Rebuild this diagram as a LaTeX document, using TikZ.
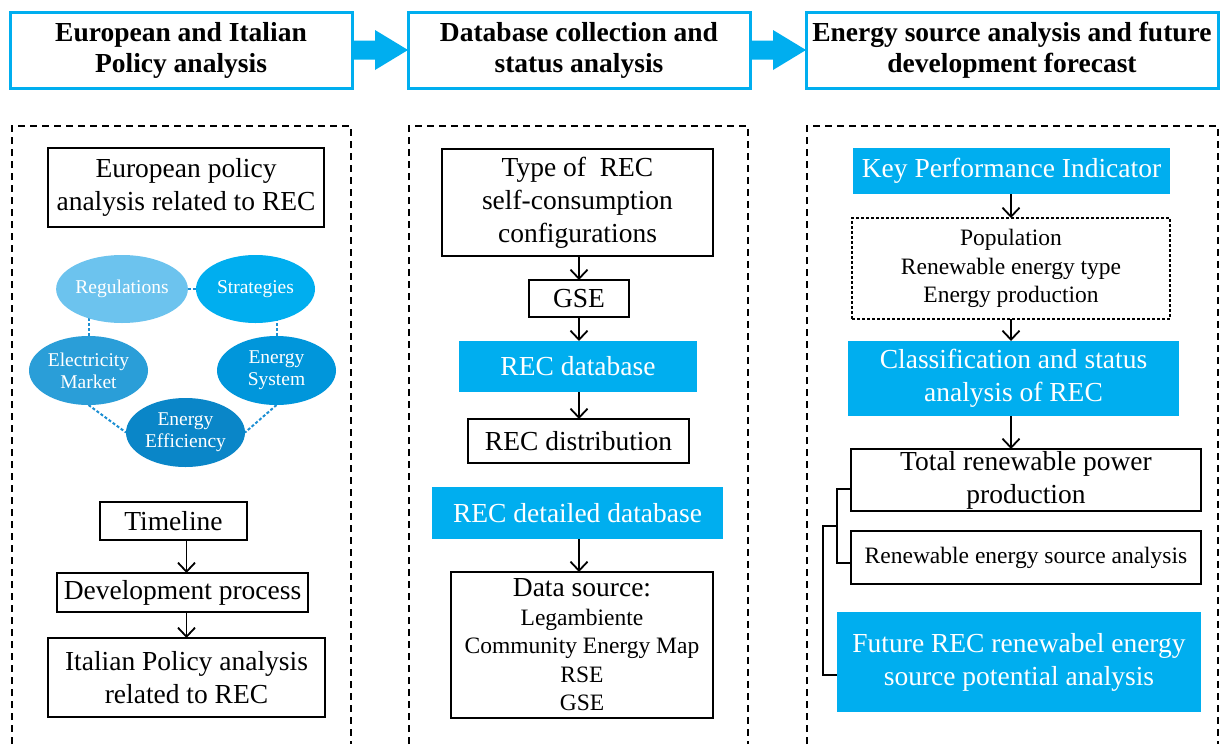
\documentclass[tikz,border=0pt]{standalone}
\usepackage{fontspec}
\setmainfont{Liberation Serif}
\usetikzlibrary{shapes.geometric,arrows.meta,calc,backgrounds}
\definecolor{cyanA}{HTML}{00AEEF}
\definecolor{ellA}{HTML}{6CC3EE}
\definecolor{ellB}{HTML}{00AEEF}
\definecolor{ellC}{HTML}{2A9ED8}
\definecolor{ellD}{HTML}{0096DB}
\definecolor{ellE}{HTML}{0A86C8}
\definecolor{dotblue}{HTML}{1C8FD3}
\newcommand{\fsL}{\fontsize{27.5}{33}\selectfont}
\newcommand{\fsH}{\fontsize{27.5}{31}\selectfont}
\newcommand{\fsM}{\fontsize{23.5}{28.5}\selectfont}
\newcommand{\fsS}{\fontsize{19.5}{22}\selectfont}
\tikzset{
  hdr/.style={draw=cyanA, line width=3pt, fill=white, inner sep=0pt, outer sep=0pt, align=center, font=\fsH\bfseries, minimum height=76pt},
  box/.style={draw=black, line width=1.6pt, inner sep=0pt, outer sep=0pt, align=center, font=\fsL},
  dotbox/.style={draw=black, line width=1.6pt, dash pattern=on 3pt off 2pt, inner sep=0pt, outer sep=0pt, align=center, font=\fsM},
  cbox/.style={fill=cyanA, text=white, inner sep=0pt, outer sep=0pt, align=center, font=\fsL},
  ell/.style={ellipse, inner sep=0pt, outer sep=0pt, text=white, align=center, font=\fsS},
  arr/.style={line width=1.8pt, -{Straight Barb[length=9pt,width=17pt]}},
  tree/.style={line width=1.6pt},
  cont/.style={line width=1.6pt, dash pattern=on 7pt off 5pt},
  dotcon/.style={draw=dotblue, line width=2pt, dash pattern=on 3pt off 2pt},
  blockarr/.style={fill=cyanA}
}
\begin{document}
\begin{tikzpicture}[x=1pt,y=-1pt]
\useasboundingbox (0,0) rectangle (1220,744);

% headers
\node[hdr, minimum width=342pt] (H1) at (181,50) {European and Italian\\Policy analysis};
\node[hdr, minimum width=342pt] (H2) at (579,50) {Database collection and\\status analysis};
\node[hdr, minimum width=412pt] (H3) at (1012,50) {Energy source analysis and future\\development forecast};
\fill[blockarr] ($(H1.east)+(0,-9.5)$) -- ++(23,0) -- ++(0,-10.5) -- (H2.west) -- ++(-33,20) -- ++(0,-10.5) -- ++(-23,0) -- cycle;
\fill[blockarr] ($(H2.east)+(0,-9.5)$) -- ++(23,0) -- ++(0,-10.5) -- (H3.west) -- ++(-33,20) -- ++(0,-10.5) -- ++(-23,0) -- cycle;

% containers
\draw[cont] (12,744) -- (12,126) -- (351,126) -- (351,744);
\draw[cont] (409,744) -- (409,126) -- (748,126) -- (748,744);
\draw[cont] (807,744) -- (807,126) -- (1218,126) -- (1218,744);

% left column
\node[box, minimum width=276pt, minimum height=79pt] (EU) at (186,187.5) {European policy\\analysis related to REC};
\node[ell, fill=ellA, minimum width=118pt, minimum height=68pt] (Reg) at (122,289) {Regulations};
\node[ell, fill=ellB, minimum width=119pt, minimum height=68pt] (Str) at (255.5,289) {Strategies};
\node[ell, fill=ellC, minimum width=119pt, minimum height=69pt] (Elec) at (88.5,370.5) {Electricity\\Market};
\node[ell, fill=ellD, minimum width=119pt, minimum height=69pt] (Sys) at (276.5,370.5) {Energy\\System};
\node[ell, fill=ellE, minimum width=119pt, minimum height=69pt] (Eff) at (185.5,432.5) {Energy\\Efficiency};
\begin{scope}[on background layer]
\fill[white] (0,0) rectangle (1220,744);
\draw[dotcon] (Reg) -- (Str);
\draw[dotcon] (Elec.center) -- (Elec.center |- Reg.center);
\draw[dotcon] (Sys.center) -- (Sys.center |- Str.center);
\draw[dotcon] (Elec.south) -- (Eff.west);
\draw[dotcon] (Sys.south) -- (Eff.east);
\end{scope}
\node[box, minimum width=147pt, minimum height=38pt] (Time) at (173.5,521) {Timeline};
\node[box, minimum width=251pt, minimum height=39pt] (Dev) at (182.5,592.5) {Development process};
\node[box, minimum width=277pt, minimum height=79pt] (Ital) at (186.5,677.5) {Italian Policy analysis\\related to REC};
\draw[arr] (Ital.north |- Time.south) -- (Ital.north |- Dev.north);
\draw[arr] (Ital.north |- Dev.south) -- (Ital.north);

% middle column
\node[box, minimum width=271pt, minimum height=107pt] (Type) at (577.5,202.5) {Type of~ REC\\self-consumption\\configurations};
\node[box, minimum width=100pt, minimum height=37pt] (GSE) at (579,298.5) {GSE};
\node[cbox, minimum width=238pt, minimum height=51pt] (DB) at (578,366.5) {REC database};
\node[box, minimum width=221pt, minimum height=44pt] (Dist) at (578.5,441) {REC distribution};
\node[cbox, minimum width=291pt, minimum height=52pt] (DDB) at (577.5,513) {REC detailed database};
\node[box, font=\fsM, minimum width=262pt, minimum height=146pt] (DS) at (582,645) {{\fsL Data source:}\\Legambiente\\Community Energy Map\\RSE\\GSE};
\draw[arr] (GSE.north |- Type.south) -- (GSE.north);
\draw[arr] (GSE.south) -- (GSE.south |- DB.north);
\draw[arr] (GSE.south |- DB.south) -- (GSE.south |- Dist.north);
\draw[arr] (GSE.south |- DDB.south) -- (GSE.south |- DS.north);

% right column
\node[cbox, minimum width=317pt, minimum height=46pt] (KPI) at (1011.5,171) {Key Performance Indicator};
\node[dotbox, minimum width=318pt, minimum height=101pt] (Pop) at (1011,268.5) {Population\\Renewable energy type\\Energy production};
\node[cbox, minimum width=331pt, minimum height=75pt] (Cls) at (1013.5,378.5) {Classification and status\\analysis of REC};
\node[box, minimum width=350pt, minimum height=62pt] (Tot) at (1026,480) {Total renewable power\\production};
\node[box, font=\fsM, minimum width=350pt, minimum height=53pt] (Res) at (1026,557.5) {Renewable energy source analysis};
\node[cbox, minimum width=364pt, minimum height=100pt] (Fut) at (1019,662) {Future REC renewabel energy\\source potential analysis};
\draw[arr] (Pop.north |- KPI.south) -- (Pop.north);
\draw[arr] (Pop.south) -- (Pop.south |- Cls.north);
\draw[arr] (Pop.south |- Cls.south) -- (Pop.south |- Tot.north);

\coordinate (b1top) at ($(Tot.west)+(-14,9)$);
\coordinate (b1bot) at ($(Res.west)+(-14,5.5)$);
\coordinate (b1mid) at ($(b1top)!0.5!(b1bot)$);
\draw[tree] ($(Tot.west)+(0,9)$) -- (b1top) -- (b1bot) -- ($(Res.west)+(0,5.5)$);
\draw[tree] ($(Fut.west)+(0,13)$) -- ++(-14,0) |- (b1mid);
\end{tikzpicture}
\end{document}
